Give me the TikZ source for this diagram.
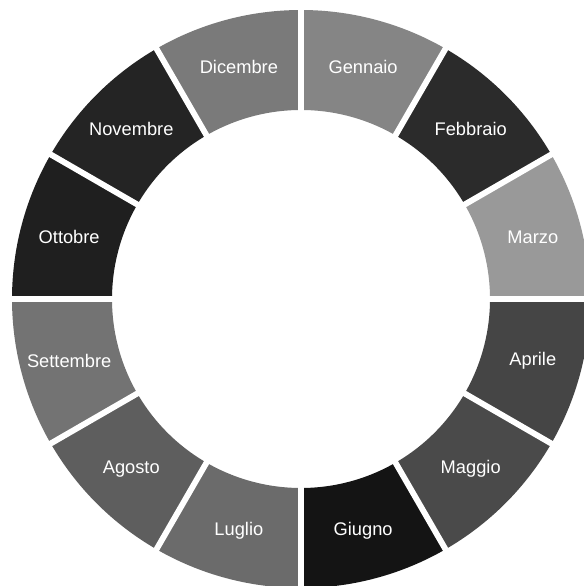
\documentclass[tikz,border=0pt]{standalone}
\usepackage{fontspec}
\setmainfont{Liberation Sans}
\usetikzlibrary{calc}
\begin{document}
\begin{tikzpicture}[x=0.03cm,y=0.03cm,
  lbl/.style={text=white,font=\fontsize{15.6}{18}\selectfont,inner sep=0pt},
  gapline/.style={draw=white,line width=5pt}]
\useasboundingbox (0,0) rectangle (583,586);
\fill[white] (0,0) rectangle (583,586);
\coordinate (C) at (301,287);
\definecolor{c1}{gray}{0.52}
\definecolor{c2}{gray}{0.17}
\definecolor{c3}{gray}{0.60}
\definecolor{c4}{gray}{0.27}
\definecolor{c5}{gray}{0.29}
\definecolor{c6}{gray}{0.08}
\definecolor{c7}{gray}{0.42}
\definecolor{c8}{gray}{0.37}
\definecolor{c9}{gray}{0.45}
\definecolor{c10}{gray}{0.12}
\definecolor{c11}{gray}{0.14}
\definecolor{c12}{gray}{0.48}
\foreach \i/\name in {1/Gennaio,2/Febbraio,3/Marzo,4/Aprile,5/Maggio,6/Giugno,7/Luglio,8/Agosto,9/Settembre,10/Ottobre,11/Novembre,12/Dicembre}{
  \pgfmathsetmacro{\a}{120-30*\i}
  \pgfmathsetmacro{\b}{90-30*\i}
  \pgfmathsetmacro{\m}{105-30*\i}
  \fill[c\i] ($(C)+(\a:189)$) arc[start angle=\a, end angle=\b, radius=189]
     -- ($(C)+(\b:289)$) arc[start angle=\b, end angle=\a, radius=289] -- cycle;
  \node[lbl] (m\i) at ($(C)+(\m:240)$) {\name};
}
\foreach \i in {0,...,11}{
  \pgfmathsetmacro{\a}{90-30*\i}
  \draw[gapline] ($(C)+(\a:180)$) -- ($(C)+(\a:300)$);
}
\end{tikzpicture}
\end{document}
